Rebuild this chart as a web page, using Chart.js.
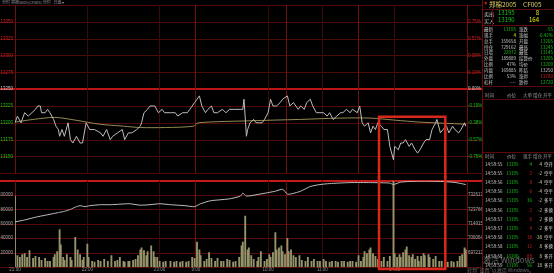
<!DOCTYPE html>
<html lang="zh-CN">
<head>
<meta charset="utf-8">
<title>郑棉2005 分时</title>
<script src="https://cdn.jsdelivr.net/npm/chart.js@4.4.1/dist/chart.umd.min.js"></script>
<style>
  html, body { margin: 0; padding: 0; background: #000; }
  body { position: relative; width: 554px; height: 273px; overflow: hidden;
         font-family: "Noto Sans CJK SC", "Liberation Sans", sans-serif; color: #c8c8c8; }
  #priceChart, #volChart { position: absolute; left: 0; }
  #priceChart { top: 0; }
  #volChart { top: 176px; }
  #topbar { position: absolute; left: 2px; top: 0; font-size: 4px; line-height: 5px; color: #9a9a9a; white-space: nowrap; }
  #panel { position: absolute; left: 482px; top: 0; width: 72px; height: 273px; border-left: 1px solid #6a0c0c; }
  .t { position: absolute; white-space: nowrap; line-height: 1; }
  .hl { position: absolute; height: 0; border-top: 1px solid #5a0a0a; }
  .vl { position: absolute; width: 0; border-left: 1px solid #5a0a0a; }
  .wm { position: absolute; white-space: nowrap; color: rgba(190,190,190,0.55); line-height: 1; }
</style>
</head>
<body>
<div id="topbar">分时 郑棉2005(CF005) 分时 &nbsp; 日盘 ▾</div>
<canvas id="priceChart" width="482" height="178"></canvas>
<canvas id="volChart" width="482" height="97"></canvas>
<div id="panel"></div>
<div class="wm" style="left:483px;top:256px;font-size:8px;">激活 Windows</div>
<div class="wm" style="left:467px;top:267px;font-size:5px;">转到"设置"以激活 Windows。</div>
<script>
// ---- data ----
const prevSettle = 13250;
const priceTicks = [13125, 13150, 13175, 13200, 13225, 13250, 13275, 13300, 13325, 13350, 13375];
const volTicks = [0, 20000, 40000, 60000, 80000, 100000, 120000];
const oiTicks = [688362, 697213, 706064, 714915, 723766, 732617, 741468];
const timeTicks = [0, 60, 120, 150, 210, 225, 255, 285, 315, 375];
const timeLabels = ["21:00", "22:00", "23:00", "9:00", "10:00", "", "11:00", "", "14:00", ""];
const sessionTicks = [0, 150, 225, 285, 375];

// [minute from 21:00, price]
const priceSeries = [
  [0,13200],[2,13210],[5,13200],[8,13215],[11,13210],[14,13215],[17,13220],[19,13225],[21,13225],[22,13215],
  [25,13215],[27,13220],[29,13215],[32,13205],[34,13195],[36,13190],[37,13180],[39,13190],[41,13180],[44,13200],
  [46,13175],[48,13170],[51,13180],[54,13170],[56,13170],[59,13200],[62,13190],[66,13190],[71,13185],[73,13180],
  [76,13190],[79,13175],[81,13180],[85,13185],[89,13190],[91,13175],[94,13185],[97,13185],[101,13190],[104,13195],
  [105,13200],[107,13215],[110,13220],[112,13225],[116,13225],[119,13215],[122,13220],[124,13215],[129,13215],[133,13215],
  [135,13210],[139,13215],[143,13215],[145,13220],[149,13230],[151,13235],[153,13240],[155,13225],[158,13215],[160,13220],
  [163,13225],[165,13215],[168,13215],[172,13220],[175,13215],[178,13220],[182,13220],[187,13220],[189,13220],[190,13235],
  [192,13180],[193,13190],[195,13200],[198,13205],[200,13200],[203,13200],[205,13200],[207,13205],[210,13215],[212,13235],
  [214,13225],[217,13225],[220,13230],[222,13235],[226,13240],[228,13225],[231,13230],[233,13225],[235,13220],[237,13225],
  [240,13220],[242,13230],[245,13235],[247,13225],[250,13215],[253,13215],[256,13215],[259,13210],[261,13215],[264,13205],
  [267,13210],[270,13215],[272,13215],[275,13220],[278,13215],[280,13220],[284,13215],[286,13225],[288,13200],[290,13195],
  [293,13200],[295,13185],[297,13195],[299,13190],[301,13200],[304,13195],[306,13190],[309,13190],[311,13165],[314,13145],
  [315,13165],[318,13160],[320,13170],[322,13170],[324,13175],[327,13165],[329,13170],[332,13160],[334,13155],[336,13160],
  [339,13170],[341,13175],[344,13175],[346,13190],[349,13200],[350,13205],[353,13185],[355,13190],[358,13195],[360,13185],
  [363,13195],[365,13190],[368,13185],[370,13190],[373,13200],[374,13195]
];

// [minute, average price]
const avgSeries = [
  [0,13201],[15,13205],[33,13208],[50,13204],[70,13198],[90,13195],[104,13193],[125,13193],[148,13195],[152,13200],
  [195,13203],[236,13205],[270,13207],[295,13207],[315,13204],[336,13201],[374,13198]
];

// [minute, volume]
const volumeSeries = [
  [0,98600],[2,16000],[4,13300],[6,17300],[8,18700],[10,13300],[12,22700],[15,12000],[17,14700],[20,13300],
  [22,9300],[25,12000],[27,8000],[29,8000],[32,13300],[33,17300],[35,21300],[37,52000],[38,30700],[40,13300],
  [41,9300],[43,17300],[46,13300],[47,9300],[50,41300],[52,24000],[54,17300],[56,9300],[57,13300],[60,32000],
  [61,13300],[64,8000],[66,6700],[69,9300],[71,8000],[74,10700],[77,8000],[80,16000],[83,8000],[85,9300],
  [87,13300],[90,8000],[91,6700],[94,8000],[95,8000],[98,9300],[100,10700],[102,16000],[104,24000],[105,26700],
  [107,22700],[109,16000],[110,21300],[113,29300],[115,21300],[116,13300],[118,13300],[120,8000],[123,6700],[125,8000],
  [129,8000],[132,6700],[134,8000],[137,6700],[139,8000],[142,6700],[144,8000],[147,13300],[149,12000],[151,34700],
  [153,24000],[154,16000],[157,8000],[159,10700],[161,20000],[163,12000],[166,8000],[168,12000],[171,8000],[173,8000],
  [176,10700],[178,9300],[181,6700],[183,8000],[186,13300],[188,29300],[189,34700],[191,70700],[193,24000],[194,26700],
  [196,16000],[198,10700],[201,8000],[202,13300],[204,21300],[207,8000],[209,10700],[211,17300],[212,13300],[214,20000],
  [216,48000],[217,24000],[219,26700],[221,29300],[222,21300],[224,17300],[226,40000],[227,21300],[229,24000],[231,16000],
  [233,13300],[236,16000],[238,9300],[241,8000],[243,13300],[246,8000],[248,10700],[251,8000],[253,8000],[256,10700],
  [258,8000],[261,6700],[263,8000],[266,8000],[268,6700],[271,8000],[273,8000],[276,6700],[278,8000],[280,8000],
  [283,6700],[285,16000],[287,8000],[289,13300],[290,21300],[292,18700],[294,24000],[295,26700],[297,18700],[299,14700],
  [301,10700],[304,8000],[306,13300],[309,8000],[311,14700],[314,121300],[315,18700],[317,13300],[319,17300],[320,13300],
  [322,20000],[324,24000],[325,28000],[327,16000],[329,13300],[330,17300],[332,10700],[334,14700],[335,8000],[337,14700],
  [339,18700],[340,16000],[343,17300],[344,13300],[347,10700],[349,14700],[352,8000],[354,8000],[357,6700],[359,6700],
  [362,8000],[364,6700],[367,8000],[369,14700],[371,17300],[373,26700],[374,24000]
];

// [minute, open interest]
const oiSeries = [
  [0,716100],[8,717300],[17,719000],[25,720200],[33,721400],[37,722000],[41,722600],[46,723800],[50,725200],[54,726100],
  [58,725500],[62,726100],[71,726700],[79,726700],[87,727000],[95,727300],[104,726400],[112,726700],[120,727300],[129,726700],
  [141,726100],[149,725500],[154,727300],[162,729100],[170,729700],[178,730300],[187,732000],[189,733800],[192,732000],[203,733200],
  [216,735000],[222,736200],[226,733200],[230,733500],[237,735000],[245,737900],[253,739100],[261,739700],[278,740300],[295,740300],
  [311,740000],[314,739100],[320,740600],[336,741200],[353,741000],[365,740400],[374,739100]
];

// highlight box drawn on the screenshot
const boxMinutes = [302, 357];
const boxTopPrice = 13209;

// right-hand quote panel
const quoteTitle = ["郑棉2005", "CF005"];
const askRow = ["卖出", "13195", "8"];
const bidRow = ["买入", "13190", "164"];
const quoteRows = [
  ["最新", "13195", "涨跌", "-55"],
  ["现手", "4", "涨幅", "-0.42%"],
  ["总手", "359658", "开盘", "13205"],
  ["持仓", "729162", "最高", "13245"],
  ["日增", "22972", "最低", "13145"],
  ["外盘", "189889", "结算价", "13205"],
  ["比例", "47%", "均价", "13209"],
  ["内盘", "169885", "昨结", "13250"],
  ["比例", "53%", "涨停", "13780"],
  ["杠杆", "----", "跌停", "12720"]
];
const tradeHeader = ["时间", "价位", "现手", "增仓", "开平"];
const tradeRows = [
  ["14:59:55", "13195", "4", "4", "空开", "g"],
  ["14:59:55", "13195", "2", "-2", "空平", "r"],
  ["14:59:56", "13195", "8", "-4", "空平", "r"],
  ["14:59:56", "13195", "6", "-4", "空平", "r"],
  ["14:59:56", "13195", "36", "-2", "多平", "g"],
  ["14:59:56", "13195", "2", "-2", "多换", "r"],
  ["14:59:57", "13195", "6", "2", "多换", "r"],
  ["14:59:57", "13195", "4", "-2", "多平", "r"],
  ["14:59:58", "13195", "38", "-38", "空平", "r"],
  ["14:59:58", "13195", "12", "8", "多换", "r"],
  ["14:59:58", "13200", "88", "8", "多开", "r"],
  ["14:59:59", "13195", "56", "18", "多开", "g"]
];

(function () {
  const $ = (id) => document.getElementById(id);
  const FONT = "'Liberation Sans', 'DejaVu Sans', sans-serif";
  const RED = "#d42020", GREEN = "#18c018", WHITE = "#c8c8c8";
  Chart.defaults.font.family = FONT;

  function toPoints(series) {
    return series.map((p) => ({ x: p[0], y: p[1] }));
  }

  function priceColor(v) {
    if (v > prevSettle) return RED;
    if (v < prevSettle) return GREEN;
    return WHITE;
  }

  function hideEnds(v, i, ticks) {
    return i === 0 || i === ticks.length - 1 ? "" : String(v);
  }

  function fixedTicks(list) {
    return (scale) => { scale.ticks = list.map((v) => ({ value: v })); };
  }

  function xScale(showLabels) {
    return {
      type: "linear", min: 0, max: 375, offset: false,
      afterBuildTicks: fixedTicks(timeTicks),
      afterFit: (s) => { s.height = showLabels ? 6 : 0; },
      grid: {
        offset: false, drawTicks: false, lineWidth: 1,
        color: (c) => sessionTicks.includes(c.tick.value) ? "#701010" : "#3c0808",
      },
      border: { display: false },
      ticks: {
        display: showLabels, autoSkip: false, maxRotation: 0, padding: 0,
        color: "#8c8c8c", font: { size: 4.5 },
        callback: (v) => timeLabels[timeTicks.indexOf(v)] || "",
      },
    };
  }

  // horizontal grid lines run under the axis labels too, edge to edge
  const fullGridPlugin = {
    id: "fullGrid",
    beforeDraw(chart, args, opts) {
      const scale = chart.scales[opts.axis];
      const ctx = chart.ctx;
      ctx.save();
      opts.values.forEach((v, i) => {
        const w = opts.width(v, i);
        const y = Math.round(scale.getPixelForValue(v)) + (w % 2 ? 0.5 : 0);
        ctx.strokeStyle = opts.color(v, i);
        ctx.lineWidth = w;
        ctx.beginPath();
        ctx.moveTo(0, y);
        ctx.lineTo(chart.width, y);
        ctx.stroke();
      });
      ctx.restore();
    },
  };

  const boxPlugin = {
    id: "box",
    afterDraw(chart, args, opts) {
      const { ctx } = chart;
      const x = chart.scales.x;
      const l = x.getPixelForValue(boxMinutes[0]);
      const r = x.getPixelForValue(boxMinutes[1]);
      ctx.save();
      ctx.strokeStyle = "#d8281c";
      ctx.lineWidth = 2.5;
      ctx.beginPath();
      if (opts.part === "top") {
        const t = chart.scales.y.getPixelForValue(boxTopPrice);
        ctx.moveTo(l, chart.height); ctx.lineTo(l, t); ctx.lineTo(r, t); ctx.lineTo(r, chart.height);
      } else {
        const b = chart.chartArea.bottom + 2;
        ctx.moveTo(l, 0); ctx.lineTo(l, b); ctx.lineTo(r, b); ctx.lineTo(r, 0);
      }
      ctx.stroke();
      ctx.restore();
    },
  };

  function makePriceChart() {
    return new Chart($("priceChart"), {
      type: "line",
      data: {
        datasets: [
          { data: toPoints(priceSeries), borderColor: "#bcbcbc", borderWidth: 1, pointRadius: 0, tension: 0 },
          { data: toPoints(avgSeries), borderColor: "#948a50", borderWidth: 1, pointRadius: 0, tension: 0.3 },
        ],
      },
      options: {
        responsive: false, animation: false, devicePixelRatio: 1,
        layout: { padding: { top: 5, bottom: 2, left: 0, right: 0 } },
        plugins: {
          legend: { display: false }, tooltip: { enabled: false }, box: { part: "top" },
          fullGrid: {
            axis: "y", values: priceTicks,
            color: (v) => v === prevSettle ? "#bb1515" : "#4e0909",
            width: (v) => v === prevSettle ? 2 : 1,
          },
        },
        scales: {
          x: xScale(false),
          y: {
            position: "left", min: priceTicks[0], max: priceTicks[priceTicks.length - 1],
            afterBuildTicks: fixedTicks(priceTicks),
            afterFit: (s) => { s.width = 15; },
            grid: { display: false, drawTicks: false },
            border: { display: false },
            ticks: { padding: 2, font: { size: 4.5 }, color: (c) => priceColor(c.tick.value), callback: hideEnds },
          },
          yPct: {
            position: "right", min: priceTicks[0], max: priceTicks[priceTicks.length - 1],
            afterBuildTicks: fixedTicks(priceTicks),
            afterFit: (s) => { s.width = 15; },
            grid: { display: false, drawTicks: false },
            border: { display: false },
            ticks: {
              padding: 1, font: { size: 4.5 }, color: (c) => priceColor(c.tick.value),
              callback: (v, i, t) => (i === 0 || i === t.length - 1) ? "" :
                ((v - prevSettle) / prevSettle * 100).toFixed(2) + "%",
            },
          },
        },
      },
      plugins: [fullGridPlugin, boxPlugin],
    });
  }

  function makeVolumeChart() {
    return new Chart($("volChart"), {
      type: "bar",
      data: {
        datasets: [
          { type: "bar", yAxisID: "yVol", data: toPoints(volumeSeries), backgroundColor: "#96946a", barThickness: 1.2, order: 2 },
          { type: "line", yAxisID: "yOI", data: toPoints(oiSeries), borderColor: "#bcbcbc", borderWidth: 1, pointRadius: 0, tension: 0.2, order: 1 },
        ],
      },
      options: {
        responsive: false, animation: false, devicePixelRatio: 1,
        layout: { padding: { top: 1, bottom: 0, left: 0, right: 0 } },
        plugins: {
          legend: { display: false }, tooltip: { enabled: false }, box: { part: "bottom" },
          fullGrid: {
            axis: "yVol", values: volTicks,
            color: (v, i) => i === volTicks.length - 1 ? "#c41a1a" : "#560a0a",
            width: (v, i) => i === volTicks.length - 1 ? 2 : 1,
          },
        },
        scales: {
          x: xScale(true),
          yVol: {
            position: "left", min: volTicks[0], max: volTicks[volTicks.length - 1],
            afterBuildTicks: fixedTicks(volTicks),
            afterFit: (s) => { s.width = 15; },
            grid: { display: false, drawTicks: false },
            border: { display: false },
            ticks: { padding: 2, font: { size: 4.5 }, color: "#a8a8a8", callback: hideEnds },
          },
          yOI: {
            position: "right", min: oiTicks[0], max: oiTicks[oiTicks.length - 1],
            afterBuildTicks: fixedTicks(oiTicks),
            afterFit: (s) => { s.width = 15; },
            grid: { display: false, drawTicks: false },
            border: { display: false },
            ticks: { padding: 1, font: { size: 4.5 }, color: "#a8a8a8", callback: hideEnds },
          },
        },
      },
      plugins: [fullGridPlugin, boxPlugin],
    });
  }

  // ---- quote panel (plain text) ----
  function put(parent, text, x, y, color, size, right) {
    const el = document.createElement("span");
    el.className = "t";
    el.textContent = text;
    el.style.fontSize = size + "px";
    el.style.color = color;
    el.style.top = (y - size * 0.55) + "px";
    if (right) el.style.right = (72 - x) + "px";
    else el.style.left = x + "px";
    parent.appendChild(el);
  }

  function line(parent, cls, x, y, len) {
    const el = document.createElement("div");
    el.className = cls;
    el.style.left = x + "px";
    el.style.top = y + "px";
    if (cls === "hl") el.style.width = len + "px"; else el.style.height = len + "px";
    parent.appendChild(el);
  }

  function buildPanel() {
    const p = $("panel");
    const YEL = "#e2d264";
    put(p, "▼", 1, 4, RED, 3.5, false);
    put(p, quoteTitle[0], 6, 5, YEL, 6.5, false);
    put(p, quoteTitle[1], 40, 5, YEL, 6.5, false);
    line(p, "hl", 0, 9, 72);
    put(p, askRow[0], 1, 13.5, WHITE, 5, false);
    put(p, askRow[1], 15, 13.5, GREEN, 6, false);
    put(p, askRow[2], 56, 13.5, "#e8e800", 6, true);
    put(p, bidRow[0], 1, 20.5, WHITE, 5, false);
    put(p, bidRow[1], 15, 20.5, GREEN, 6, false);
    put(p, bidRow[2], 56, 20.5, "#e8e800", 6, true);
    line(p, "vl", 9, 9, 16);
    line(p, "hl", 0, 25, 72);

    quoteRows.forEach((row, i) => {
      const y = 29.5 + i * 5.85;
      put(p, row[0], 1, y, WHITE, 4.5, false);
      const v1 = row[1];
      const c1 = /^\d{5}$/.test(v1) ? GREEN : (i === 1 ? "#e8e800" : WHITE);
      put(p, v1, 33, y, c1, 4.5, true);
      put(p, row[2], 36, y, WHITE, 4.5, false);
      const num = parseFloat(row[3]);
      let c2 = WHITE;
      if (row[2] === "涨停") c2 = RED;
      else if (row[2] === "跌停") c2 = GREEN;
      else if (row[3].startsWith("-")) c2 = GREEN;
      else if (num > 10000) c2 = priceColor(num);
      put(p, row[3], 70, y, c2, 4.5, true);
    });
    line(p, "hl", 0, 86, 72);

    const hx = [2, 24, 40, 50, 60];
    [95, 156].forEach((y, k) => {
      tradeHeader.forEach((h, i) => {
        const text = k === 0 && i === 2 ? "大单" : h;
        put(p, text, hx[i], y, "#9c9c9c", 4.5, false);
      });
    });
    line(p, "hl", 0, 99, 72);
    line(p, "hl", 0, 152, 72);

    tradeRows.forEach((row, i) => {
      const y = 164 + i * 9.2;
      put(p, row[0], 2, y, WHITE, 4.5, false);
      put(p, row[1], 23, y, GREEN, 4.5, false);
      put(p, row[2], 49, y, row[5] === "r" ? RED : GREEN, 4.5, true);
      put(p, row[3], 59, y, "#d8d8a0", 4.5, true);
      put(p, row[4], 61, y, "#d8d8d8", 4.5, false);
    });
  }

  document.addEventListener("DOMContentLoaded", function () {
    makePriceChart();
    makeVolumeChart();
    buildPanel();
  });
})();
</script>
</body>
</html>
